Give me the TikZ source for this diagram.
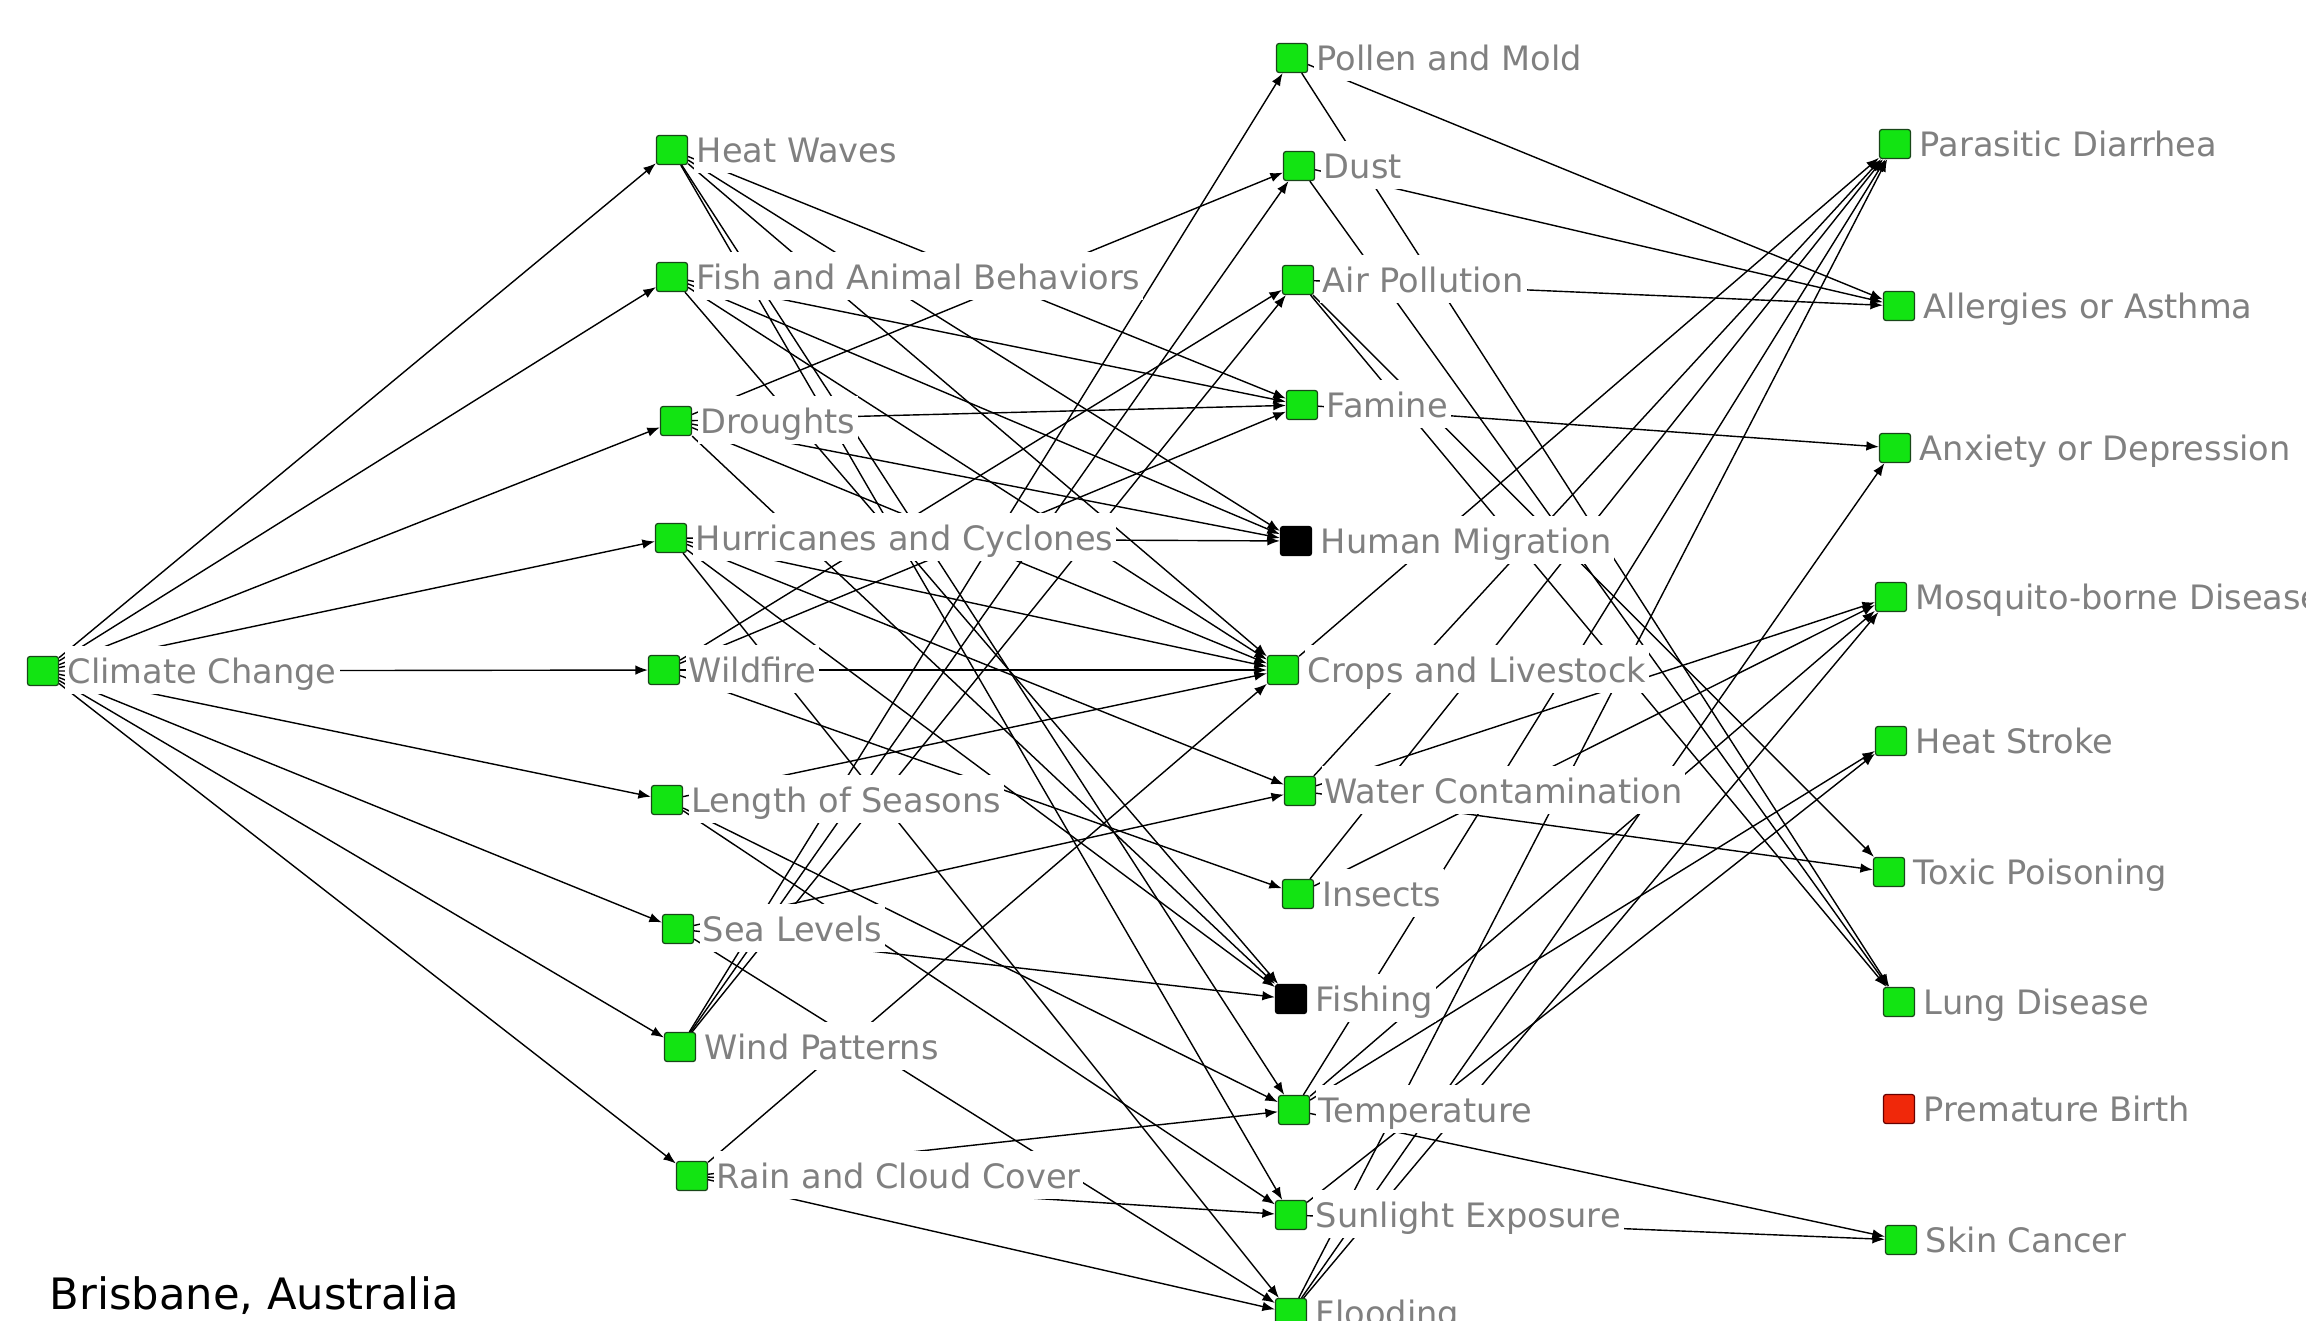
\documentclass[tikz,border=0pt]{standalone}
\usepackage{fontspec}
\setmainfont{DejaVu Sans}
\usetikzlibrary{arrows.meta}
\definecolor{ngreen}{RGB}{18,228,18}
\definecolor{nred}{RGB}{240,40,10}
\definecolor{lgray}{RGB}{128,128,128}
\definecolor{nborder}{RGB}{25,70,25}
\begin{document}
\begin{tikzpicture}[x=0.01cm,y=-0.01cm,
  sq/.style={draw=nborder, line width=0.35pt, fill=ngreen, rounded corners=0.25mm,
             minimum width=3.1mm, minimum height=2.9mm, inner sep=0pt},
  blk/.style={sq, fill=black, draw=black},
  redsq/.style={sq, fill=nred, draw=black!60!red},
  lab/.style={fill=white, text=lgray, font=\fontsize{9.56}{11}\selectfont,
              text height=3.2mm, text depth=0.6mm, inner xsep=0.3mm, inner ysep=0.5mm,
              anchor=base west},
  edge/.style={line width=0.4pt, -{Latex[length=1.25mm,width=0.95mm]}}
]
\useasboundingbox (0,0) rectangle (2306,1320);
\clip (0,0) rectangle (2306,1320);

% squares
\foreach \n/\x/\y in {CC/43/671,
  HW/672/150, FA/672/277, DR/676/421, HC/671/538, WF/664/670, LS/667/800,
  SL/678/929, WP/680/1047, RC/692/1176,
  PM/1292/58, DU/1299/166, AP/1298/280, FM/1302/405, CL/1283/670,
  WC/1300/791, IN/1298/894, TE/1294/1110, SE/1291/1215, FL/1291/1313,
  PD/1895/144, AA/1899/306, AD/1895/448, MD/1891/597, HS/1891/741,
  TP/1889/872, LD/1899/1002, SC/1901/1240}
  \node[sq] (\n) at (\x,\y) {};
\node[blk] (HM) at (1296,541) {};
\node[blk] (FI) at (1291,999) {};
\node[redsq] (PB) at (1899,1109) {};

% connectors
\foreach \a/\b in {CC/HW, CC/FA, CC/DR, CC/HC, CC/WF, CC/LS, CC/SL, CC/WP, CC/RC,
  HW/FM, HW/HM, HW/CL, HW/TE, HW/SE,
  FA/FM, FA/HM, FA/CL, FA/FI,
  DR/DU, DR/FM, DR/HM, DR/CL, DR/FI,
  HC/HM, HC/CL, HC/WC, HC/FI, HC/FL,
  WF/AP, WF/FM, WF/CL, WF/IN,
  LS/CL, LS/TE, LS/SE,
  SL/WC, SL/FI, SL/FL,
  WP/PM, WP/DU, WP/AP,
  RC/CL, RC/TE, RC/SE, RC/FL,
  PM/AA, PM/LD, DU/AA, DU/LD, AP/AA, AP/LD, AP/TP,
  FM/AD, CL/PD, WC/PD, WC/MD, WC/TP, IN/PD, IN/MD,
  TE/PD, TE/MD, TE/HS, TE/SC, SE/HS, SE/SC,
  FL/PD, FL/AD, FL/MD}
  \draw[edge] (\a) -- (\b);

% labels
\foreach \n/\t in {CC/Climate Change,
  HW/Heat Waves, FA/Fish and Animal Behaviors, DR/Droughts,
  HC/Hurricanes and Cyclones, WF/Wildfire, LS/Length of Seasons,
  SL/Sea Levels, WP/Wind Patterns, RC/Rain and Cloud Cover,
  PM/Pollen and Mold, DU/Dust, AP/Air Pollution, FM/Famine,
  HM/Human Migration, CL/Crops and Livestock, WC/Water Contamination,
  IN/Insects, FI/Fishing, TE/Temperature, SE/Sunlight Exposure, FL/Flooding,
  PD/Parasitic Diarrhea, AA/Allergies or Asthma, AD/Anxiety or Depression,
  MD/Mosquito-borne Disease, HS/Heat Stroke, TP/Toxic Poisoning,
  LD/Lung Disease, PB/Premature Birth, SC/Skin Cancer}
  \path (\n.east) ++(5,12.3) node[lab] (\n-l) {\t};

\node[anchor=base west, inner sep=0pt, font=\fontsize{12.3}{14}\selectfont] (title) at (49,1309) {Brisbane, Australia};
\end{tikzpicture}
\end{document}
